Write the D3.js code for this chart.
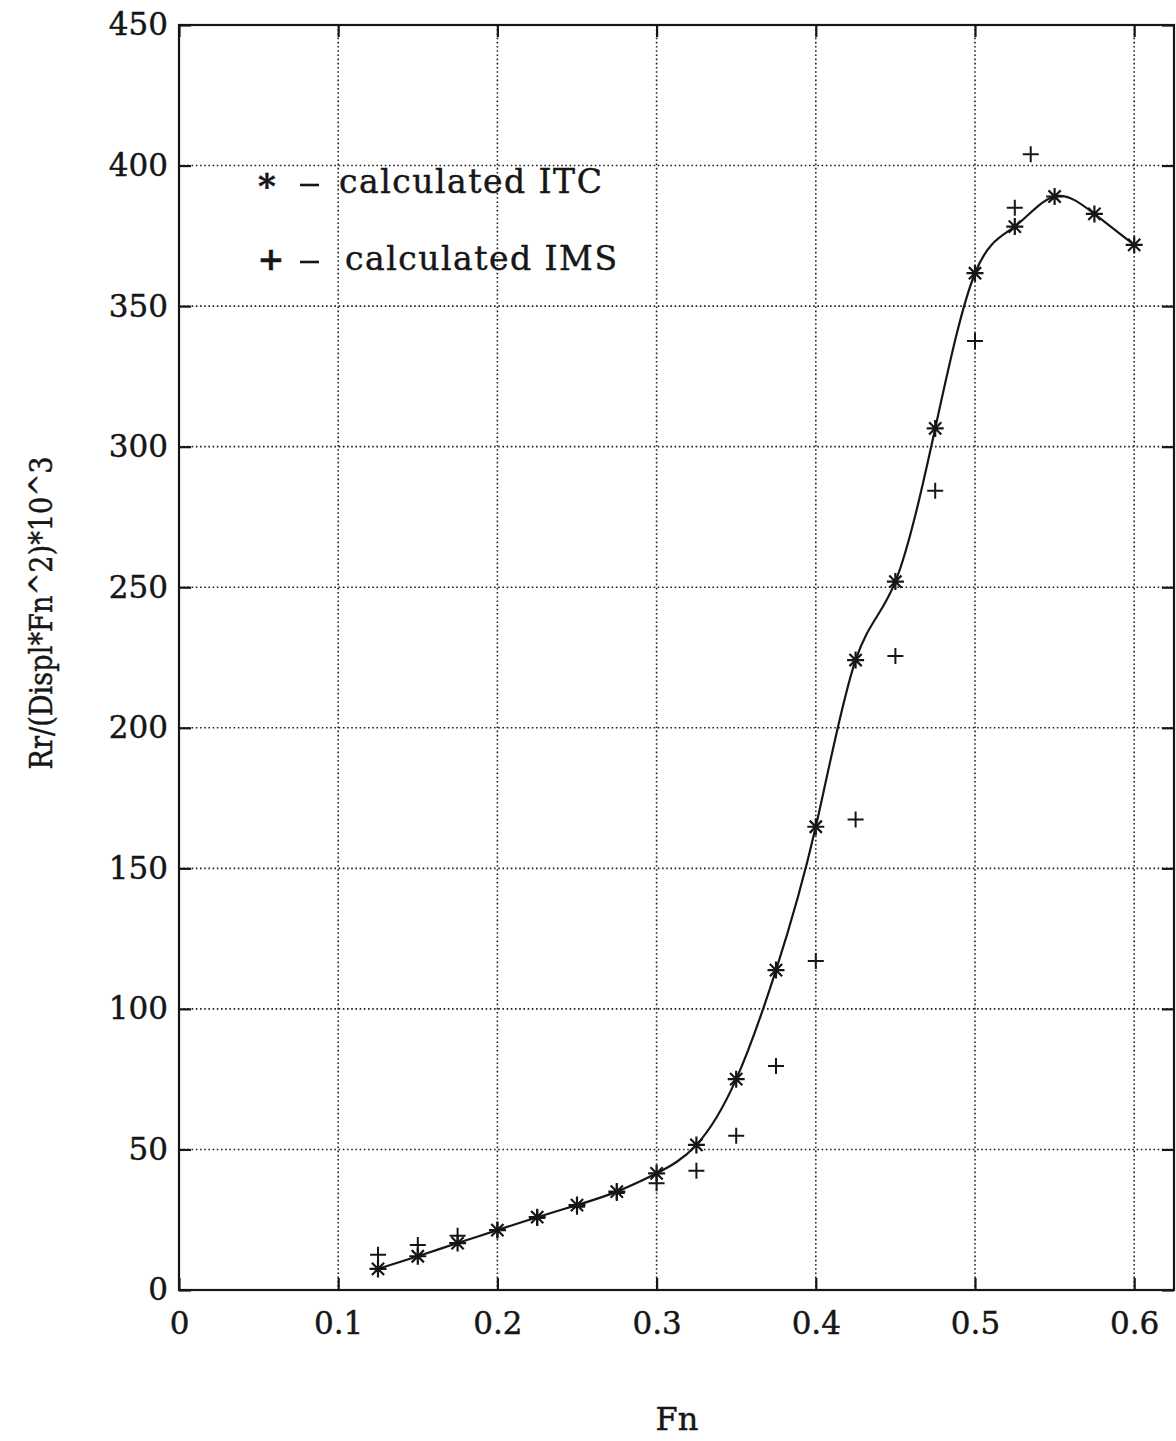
<!DOCTYPE html>
<html>
<head>
<meta charset="utf-8">
<script src="https://cdn.jsdelivr.net/npm/d3@7"></script>
<style>
  html, body { margin: 0; padding: 0; background: #ffffff; }
  svg text { font-family: "DejaVu Serif", "Liberation Serif", serif; fill: #161616;
             stroke: #161616; stroke-width: 0.45px; }
</style>
</head>
<body>
<svg id="chart" width="1176" height="1441"></svg>
<script>
// Froude number of each computed point
const fnITC = [0.125, 0.15, 0.175, 0.2, 0.225, 0.25, 0.275, 0.3, 0.325, 0.35,
               0.375, 0.4, 0.425, 0.45, 0.475, 0.5, 0.525, 0.55, 0.575, 0.6];
// Residuary resistance ratio, ITC calculation
const rrITC = [7.5, 12, 16.7, 21.3, 25.9, 30.2, 35, 41.5, 51.6, 75,
               113.8, 164.8, 224.1, 252, 306.5, 361.7, 378.3, 389, 382.8, 371.8];

const fnIMS = [0.125, 0.15, 0.175, 0.2, 0.225, 0.25, 0.275, 0.3, 0.325, 0.35,
               0.375, 0.4, 0.425, 0.45, 0.475, 0.5, 0.525, 0.535];
// Residuary resistance ratio, IMS calculation
const rrIMS = [12.5, 16, 19.3, 21.3, 25.6, 29.6, 34.5, 38, 42.4, 54.9,
               79.7, 117, 167.4, 225.5, 284.3, 337.6, 385, 404];

const xTicks = [0, 0.1, 0.2, 0.3, 0.4, 0.5, 0.6];
const xTickLabels = ["0", "0.1", "0.2", "0.3", "0.4", "0.5", "0.6"];
const yTicks = [0, 50, 100, 150, 200, 250, 300, 350, 400, 450];

const legendLabels = ["calculated ITC", "calculated IMS"];
const legendSymbols = ["*", "+"];
const xTitle = "Fn";
const yTitle = "Rr/(Displ*Fn^2)*10^3";

const ink = "#161616";
const svg = d3.select("#chart");

const plotL = 179, plotR = 1174, plotT = 25, plotB = 1290;
const x = d3.scaleLinear().domain([0, 0.625]).range([plotL, plotR]);
const y = d3.scaleLinear().domain([0, 450]).range([plotB, plotT]);

// dotted grid
const grid = svg.append("g").attr("stroke", "#222").attr("stroke-width", 1.6)
  .attr("stroke-dasharray", "1.6,2.6");
grid.selectAll("line.gx").data(xTicks.filter(d => d > 0)).join("line")
  .attr("x1", d => x(d)).attr("x2", d => x(d)).attr("y1", plotT).attr("y2", plotB);
grid.selectAll("line.gy").data(yTicks.filter(d => d > 0 && d < 450)).join("line")
  .attr("y1", d => y(d)).attr("y2", d => y(d)).attr("x1", plotL).attr("x2", plotR);

// frame
svg.append("rect").attr("x", plotL).attr("y", plotT)
  .attr("width", plotR - plotL).attr("height", plotB - plotT)
  .attr("fill", "none").attr("stroke", ink).attr("stroke-width", 2.2);

// inward ticks on all four sides
const tickLen = 12;
const axB = svg.append("g").attr("transform", `translate(0,${plotB})`)
  .call(d3.axisBottom(x).tickValues(xTicks).tickSizeInner(-tickLen).tickSizeOuter(0)
    .tickFormat((d, i) => xTickLabels[i]).tickPadding(22));
const axT = svg.append("g").attr("transform", `translate(0,${plotT})`)
  .call(d3.axisTop(x).tickValues(xTicks).tickSizeInner(-tickLen).tickSizeOuter(0)
    .tickFormat(""));
const axL = svg.append("g").attr("transform", `translate(${plotL},0)`)
  .call(d3.axisLeft(y).tickValues(yTicks).tickSizeInner(-tickLen).tickSizeOuter(0)
    .tickPadding(11));
const axR = svg.append("g").attr("transform", `translate(${plotR},0)`)
  .call(d3.axisRight(y).tickValues(yTicks).tickSizeInner(-tickLen).tickSizeOuter(0)
    .tickFormat(""));
[axB, axT, axL, axR].forEach(a => {
  a.select(".domain").remove();
  a.selectAll(".tick line").attr("stroke", ink).attr("stroke-width", 2.2);
  a.selectAll("text").attr("fill", ink).style("font-family", '"DejaVu Serif", serif')
    .attr("font-size", 31);
});
axB.selectAll("text").attr("dy", "0.71em");

// axis titles
svg.append("text").attr("x", 677).attr("y", 1430).attr("text-anchor", "middle")
  .attr("font-size", 32).text(xTitle);
svg.append("text").attr("transform", `translate(52,613) rotate(-90)`)
  .attr("text-anchor", "middle").attr("font-size", 31)
  .attr("textLength", 313).attr("lengthAdjust", "spacingAndGlyphs").text(yTitle);

// fitted curve through the ITC points
const itc = fnITC.map((f, i) => [f, rrITC[i]]);
const ims = fnIMS.map((f, i) => [f, rrIMS[i]]);
svg.append("path").datum(itc)
  .attr("d", d3.line().x(d => x(d[0])).y(d => y(d[1])).curve(d3.curveNatural))
  .attr("fill", "none").attr("stroke", ink).attr("stroke-width", 2.2);

// marker glyphs
const starPath = r => {
  const a = r * 0.72;
  return `M${-r},0L${r},0M0,${-r}L0,${r}M${-a},${-a}L${a},${a}M${-a},${a}L${a},${-a}`;
};
const plusPath = r => `M${-r},0L${r},0M0,${-r}L0,${r}`;

svg.append("g").selectAll("path").data(itc).join("path")
  .attr("transform", d => `translate(${x(d[0])},${y(d[1])})`)
  .attr("d", starPath(8.5)).attr("stroke", ink).attr("stroke-width", 2.2).attr("fill", "none");
svg.append("g").selectAll("path").data(ims).join("path")
  .attr("transform", d => `translate(${x(d[0])},${y(d[1])})`)
  .attr("d", plusPath(8)).attr("stroke", ink).attr("stroke-width", 2).attr("fill", "none");

// legend
const legY = [193, 270];
const leg = svg.append("g");
legendLabels.forEach((lab, i) => {
  leg.append("text").attr("x", i === 0 ? 267 : 271).attr("y", i === 0 ? 198 : 270)
    .attr("text-anchor", "middle").attr("font-size", i === 0 ? 34 : 32)
    .attr("font-weight", "bold").text(legendSymbols[i]);
  leg.append("line").attr("x1", 300).attr("x2", 319)
    .attr("y1", legY[i] - 8).attr("y2", legY[i] - 8)
    .attr("stroke", ink).attr("stroke-width", 2.6);
  leg.append("text").attr("x", i === 0 ? 339 : 345).attr("y", legY[i])
    .attr("font-size", 33).attr("letter-spacing", 1.5).text(lab);
});
</script>
</body>
</html>
